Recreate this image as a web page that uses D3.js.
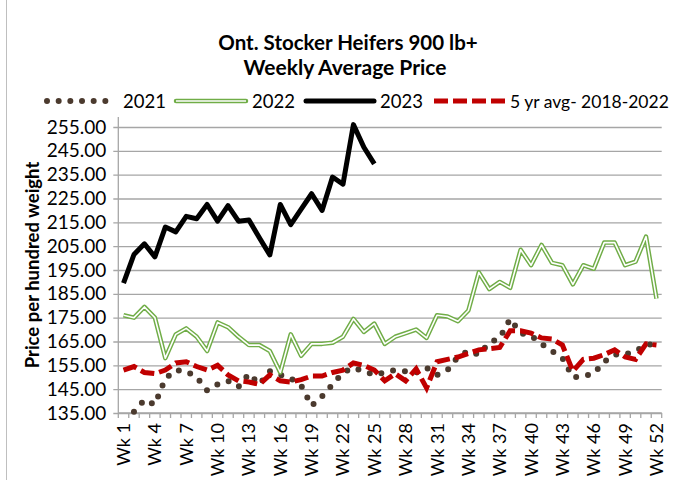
<!DOCTYPE html>
<html><head><meta charset="utf-8">
<script src="https://cdn.jsdelivr.net/npm/d3@7"></script>
<style>
body{margin:0;background:#fff;}
text{font-family:Lato,"Open Sans",sans-serif;fill:#000;}
</style></head><body>
<svg id="c" width="677" height="480"></svg>
<script>
const weeks = ["Wk 1","Wk 2","Wk 3","Wk 4","Wk 5","Wk 6","Wk 7","Wk 8","Wk 9","Wk 10","Wk 11","Wk 12","Wk 13","Wk 14","Wk 15","Wk 16","Wk 17","Wk 18","Wk 19","Wk 20","Wk 21","Wk 22","Wk 23","Wk 24","Wk 25","Wk 26","Wk 27","Wk 28","Wk 29","Wk 30","Wk 31","Wk 32","Wk 33","Wk 34","Wk 35","Wk 36","Wk 37","Wk 38","Wk 39","Wk 40","Wk 41","Wk 42","Wk 43","Wk 44","Wk 45","Wk 46","Wk 47","Wk 48","Wk 49","Wk 50","Wk 51","Wk 52"];
const xTickLabels = ["Wk 1","Wk 4","Wk 7","Wk 10","Wk 13","Wk 16","Wk 19","Wk 22","Wk 25","Wk 28","Wk 31","Wk 34","Wk 37","Wk 40","Wk 43","Wk 46","Wk 49","Wk 52"];
const yTicks = [135,145,155,165,175,185,195,205,215,225,235,245,255];

const y2021 = [null,135.5,140.5,138.5,149.5,153,152.5,150,144.5,147,148.5,146,151.5,147,152.5,151,149.5,146.5,138,142,147,152,154,152.5,151,152,153,152.5,152,154,151,153,158.5,161,159.5,164.5,166.5,174.5,168.5,167.5,164,161,158,150,150.5,151.5,156.5,159.5,159.5,161,163.5,164];
const y2022 = [176,175,179.5,175,158,168,170.5,167,161,173,171,167,163.5,163.5,161,152,168,159,164,164,164.5,167,174.5,169,172.5,164,167,168.5,170,166.5,176,175.5,173.5,178,194,187,190,187.5,203.5,197,205.5,198,197,189,197,195.5,206.5,206.5,197,198.5,209,183];
const y2023 = [189.5,201.5,206,200.5,213,211,217.5,216.5,222.5,215.5,222,215.5,216,208.5,201.3,222.5,214,220.5,227,220,234,231,256,246.5,239.5];
const yAvg = [153,154.5,152,151.5,153,156,156.5,154.5,153,155,151,148.5,148,147,151,148.5,148,149,150.5,150.5,152,153,156,155,153,148.5,151.5,148.5,153.5,145.5,156.5,157.5,158.5,160,161.5,162,162.5,169.5,169.5,168.5,166.5,166,163.5,152.5,157.5,158,159.5,161.5,158.5,157.5,164,163.5];

const svg = d3.select("#c");
const L = 118.3, R = 661.7, T = 127, B = 413;
const x = d3.scaleBand().domain(weeks).range([L, R]).padding(0);
const y = d3.scaleLinear().domain([135, 255]).range([B, T]);
const cx = w => x(w) + x.bandwidth()/2;

// chart area left border
svg.append("line").attr("x1",6.5).attr("x2",6.5).attr("y1",0).attr("y2",480).attr("stroke","#BFBFBF").attr("stroke-width",1);

// title
svg.append("text").attr("x",348).attr("y",50).attr("text-anchor","middle").attr("font-weight","bold").attr("font-size",20.5).text("Ont. Stocker Heifers 900 lb+");
svg.append("text").attr("x",345).attr("y",75).attr("text-anchor","middle").attr("font-weight","bold").attr("font-size",21).text("Weekly Average Price");

// gridlines & y axis
const yAxis = d3.axisLeft(y).tickValues(yTicks).tickSize(-(R - L)).tickSizeOuter(0).tickPadding(12).tickFormat(d3.format(".2f"));
const gy = svg.append("g").attr("transform",`translate(${L},0)`).call(yAxis);
gy.select(".domain").remove();
gy.selectAll(".tick line").attr("stroke","#A6A6A6").attr("stroke-width",1.3).attr("x1",-5);
gy.selectAll(".tick text").attr("font-size",19).attr("font-family","Lato").attr("fill","#000");
svg.append("line").attr("x1",L).attr("x2",L).attr("y1",T-10).attr("y2",B).attr("stroke","#A6A6A6").attr("stroke-width",1.3);

// x axis
const gx = svg.append("g").attr("transform",`translate(0,${B})`);
gx.append("line").attr("x1",L).attr("x2",R).attr("stroke","#A6A6A6").attr("stroke-width",1.3);
gx.selectAll("line.tk").data(weeks.concat(["end"])).enter().append("line").attr("class","tk")
  .attr("x1",(d,i)=> i<weeks.length ? x(d) : R).attr("x2",(d,i)=> i<weeks.length ? x(d) : R)
  .attr("y1",0).attr("y2",5).attr("stroke","#A6A6A6").attr("stroke-width",1.3);
gx.selectAll("text").data(xTickLabels).enter().append("text")
  .attr("transform", d => `translate(${cx(d)+6.5},10) rotate(-90)`)
  .attr("text-anchor","end").attr("font-size",18).text(d=>d);

// y title
svg.append("text").attr("transform","translate(39,265) rotate(-90)").attr("text-anchor","middle").attr("font-weight","bold").attr("font-size",18.5).text("Price per hundred weight");

const line = d3.line().defined(d => d.v != null).x(d => cx(d.w)).y(d => y(d.v));
const toPts = arr => arr.map((v,i) => ({w: weeks[i], v}));

const plot = svg.append("g");
// 2021 dotted
plot.append("path").attr("d", line(toPts(y2021))).attr("fill","none").attr("stroke","#4B3A2E")
  .attr("stroke-width",6).attr("stroke-linecap","round").attr("stroke-dasharray","0 12");
// 2022 double line
plot.append("path").attr("d", line(toPts(y2022))).attr("fill","none").attr("stroke","#70AD47").attr("stroke-width",4.5).attr("stroke-linejoin","round");
plot.append("path").attr("d", line(toPts(y2022))).attr("fill","none").attr("stroke","#fff").attr("stroke-width",1.6).attr("stroke-linejoin","round");
// 2023
plot.append("path").attr("d", line(toPts(y2023))).attr("fill","none").attr("stroke","#000").attr("stroke-width",5).attr("stroke-linejoin","round");
// avg
plot.append("path").attr("d", line(toPts(yAvg))).attr("fill","none").attr("stroke","#C00000").attr("stroke-width",5).attr("stroke-dasharray","14 5");

// legend
const ly = 101, lt = 107.5;
const lg = svg.append("g");
lg.append("line").attr("x1",47).attr("x2",117).attr("y1",ly).attr("y2",ly).attr("stroke","#4B3A2E").attr("stroke-width",6).attr("stroke-linecap","round").attr("stroke-dasharray","0 11.67");
lg.append("text").attr("x",123).attr("y",lt).attr("font-size",18.5).text("2021");
lg.append("line").attr("x1",176).attr("x2",246).attr("y1",ly).attr("y2",ly).attr("stroke","#70AD47").attr("stroke-width",4.5).attr("stroke-linecap","round");
lg.append("line").attr("x1",176).attr("x2",246).attr("y1",ly).attr("y2",ly).attr("stroke","#fff").attr("stroke-width",1.6);
lg.append("text").attr("x",252).attr("y",lt).attr("font-size",18.5).text("2022");
lg.append("line").attr("x1",306).attr("x2",374).attr("y1",ly).attr("y2",ly).attr("stroke","#000").attr("stroke-width",5).attr("stroke-linecap","round");
lg.append("text").attr("x",380).attr("y",lt).attr("font-size",18.5).text("2023");
lg.append("line").attr("x1",434).attr("x2",505).attr("y1",ly).attr("y2",ly).attr("stroke","#C00000").attr("stroke-width",5).attr("stroke-dasharray","14 5");
lg.append("text").attr("x",510).attr("y",lt).attr("font-size",17.5).text("5 yr avg- 2018-2022");
</script></body></html>
